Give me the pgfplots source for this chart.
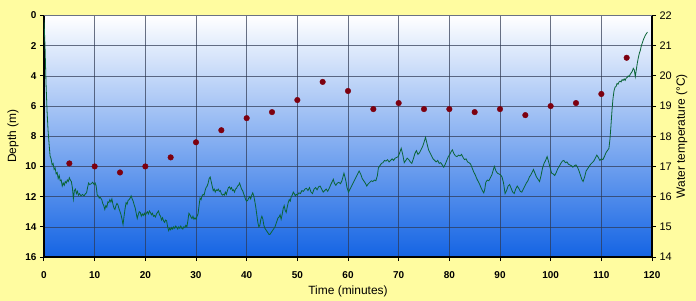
\documentclass[border=0pt]{standalone}
\usepackage{pgfplots}
\pgfplotsset{compat=1.18}
\usepackage{fontspec}
\setmainfont{Liberation Sans}
\definecolor{bgyellow}{RGB}{255,252,160}
\definecolor{deepblue}{RGB}{20,100,228}
\definecolor{midblue}{RGB}{122,174,242}
\definecolor{linegreen}{RGB}{10,100,55}
\definecolor{dotred}{RGB}{125,0,15}
\definecolor{gridc}{RGB}{45,55,80}

\pgfplotstableread{
t d
0 0.3
0.2 2.0
0.4 4.5
0.6 6.3
0.8 7.6
1.0 8.5
1.2 9.3
1.4 9.5
1.6 9.9
1.8 9.8
2.0 10.2
2.2 10.1
2.4 10.5
2.6 10.4
2.8 10.8
3.0 10.6
3.2 10.95
3.4 10.9
3.6 11.3
3.8 11.1
4.0 11.25
4.2 11.0
4.4 11.1
4.6 10.9
4.8 11.0
5.0 10.75
5.2 10.9
5.4 11.0
5.6 11.4
5.8 12.15
6.0 11.6
6.2 11.5
6.4 11.8
6.6 11.65
6.8 11.9
7.0 11.8
7.3 11.95
7.6 11.85
7.9 11.95
8.2 11.8
8.4 11.75
8.6 11.4
8.8 11.1
9.0 11.2
9.3 11.15
9.6 11.05
9.9 11.2
10.1 11.1
10.3 11.3
10.5 11.9
10.7 11.95
10.9 12.1
11.1 12.05
11.4 12.2
11.6 12.45
11.8 12.6
12.0 12.85
12.2 12.6
12.4 12.7
12.6 12.35
12.8 12.4
13.0 12.2
13.2 12.35
13.4 12.15
13.6 12.5
13.8 12.75
14.0 12.85
14.2 12.6
14.4 12.45
14.6 12.55
14.8 12.8
15.0 13.0
15.2 13.2
15.4 13.5
15.6 13.85
15.8 13.3
16.0 12.8
16.2 12.4
16.4 12.5
16.6 12.25
16.8 12.2
17.0 12.1
17.2 11.95
17.4 12.15
17.6 12.3
17.8 12.55
18.0 12.75
18.2 13.1
18.4 13.45
18.6 13.2
18.8 13.0
19.0 13.05
19.2 13.3
19.4 13.15
19.6 13.25
19.8 13.1
20.0 13.25
20.2 13.1
20.4 13.0
20.6 13.15
20.8 12.95
21.0 13.05
21.2 13.2
21.4 13.1
21.6 13.3
21.8 13.25
22.0 13.35
22.2 13.15
22.4 13.05
22.6 12.95
22.8 13.2
23.0 13.3
23.2 13.55
23.4 13.4
23.6 13.6
23.8 13.7
24.0 13.55
24.2 13.6
24.4 14.0
24.6 14.25
24.8 14.1
25.0 14.2
25.2 14.05
25.4 14.15
25.6 14.0
25.8 14.1
26.0 13.95
26.2 14.05
26.4 14.15
26.6 14.0
26.8 14.1
27.0 13.95
27.2 14.1
27.4 14.15
27.6 14.0
27.8 14.05
28.0 13.9
28.2 14.0
28.4 13.6
28.6 13.1
28.8 13.2
29.0 13.35
29.2 13.45
29.4 13.3
29.6 13.5
29.8 13.4
30.0 13.5
30.2 13.3
30.4 13.15
30.6 12.6
30.8 12.1
31.0 12.2
31.2 11.95
31.4 11.85
31.6 11.9
31.8 11.6
32.0 11.4
32.2 11.3
32.4 11.1
32.6 10.8
32.8 10.7
33.0 11.0
33.2 11.3
33.4 11.6
33.6 11.5
33.8 11.7
34.0 11.55
34.2 11.6
34.4 11.5
34.6 11.65
34.8 11.6
35.0 11.8
35.2 11.9
35.4 11.85
35.6 11.9
35.8 11.7
36.0 11.85
36.2 11.6
36.4 11.4
36.6 11.35
36.8 11.5
37.0 11.4
37.2 11.6
37.4 11.55
37.6 11.7
37.8 11.5
38.0 11.45
38.2 11.3
38.4 11.25
38.6 11.1
38.8 11.3
39.0 11.5
39.2 11.6
39.4 11.8
39.6 12.0
39.8 12.2
40.0 12.3
40.2 12.25
40.4 12.1
40.6 12.0
40.8 12.15
41.0 11.9
41.2 11.75
41.4 11.95
41.6 12.3
41.8 12.7
42.0 13.2
42.2 13.7
42.4 14.0
42.6 13.9
42.8 13.5
43.0 13.3
43.2 13.5
43.4 13.9
43.6 14.1
43.8 14.2
44.0 14.3
44.2 14.4
44.4 14.5
44.6 14.5
44.8 14.4
45.0 14.3
45.2 14.2
45.4 14.1
45.6 14.0
45.8 13.8
46.0 13.6
46.2 13.4
46.4 13.35
46.6 13.2
46.8 13.5
47.0 13.2
47.2 12.8
47.4 12.6
47.6 12.9
47.8 13.05
48.0 12.7
48.2 12.4
48.4 12.2
48.6 12.3
48.8 12.0
49.0 11.9
49.2 11.7
49.4 11.8
49.6 11.95
49.8 11.85
50.0 11.9
50.3 11.75
50.6 11.8
50.9 11.6
51.2 11.65
51.5 11.5
51.8 11.45
52.1 11.6
52.4 11.4
52.7 11.7
53.0 11.8
53.3 11.5
53.6 11.4
53.9 11.55
54.2 11.35
54.5 11.3
54.8 11.5
55.1 11.7
55.4 11.6
55.7 11.5
56.0 11.65
56.3 11.45
56.6 11.2
56.9 11.0
57.1 10.85
57.3 11.1
57.6 11.25
57.9 11.1
58.2 11.05
58.5 11.15
58.8 10.95
59.0 10.7
59.2 10.45
59.4 10.7
59.6 11.0
59.8 11.4
60.1 11.7
60.4 11.5
60.7 11.3
61.0 11.1
61.3 10.9
61.6 10.7
61.9 10.5
62.2 10.3
62.5 10.5
62.8 10.8
63.1 10.95
63.4 11.1
63.7 11.3
64.0 11.15
64.3 11.05
64.6 10.95
64.9 11.0
65.2 10.9
65.5 10.95
65.8 10.6
66.0 10.1
66.3 9.95
66.6 9.8
66.9 9.75
67.2 9.6
67.5 9.65
67.8 9.55
68.1 9.7
68.4 9.6
68.7 9.5
69.0 9.6
69.3 9.45
69.6 9.4
69.9 9.35
70.2 9.1
70.5 8.8
70.8 9.2
71.1 9.75
71.4 9.6
71.7 9.45
72.0 9.55
72.3 9.7
72.6 9.8
72.9 9.5
73.2 9.15
73.5 8.95
73.8 9.2
74.1 9.1
74.4 8.9
74.7 8.7
75.0 8.4
75.3 8.07
75.6 8.5
75.9 8.9
76.2 9.1
76.5 9.3
76.8 9.5
77.1 9.6
77.4 9.7
77.7 9.6
78.0 9.8
78.3 9.75
78.6 9.9
78.9 10.05
79.2 9.85
79.5 9.6
79.8 9.35
80.1 9.2
80.4 9.0
80.6 8.9
80.9 9.15
81.2 9.3
81.5 9.35
81.8 9.25
82.1 9.3
82.4 9.2
82.7 9.4
83.0 9.55
83.3 9.5
83.6 9.7
83.9 9.75
84.2 9.85
84.5 10.1
84.8 10.35
85.1 10.55
85.4 10.8
85.7 11.0
86.0 11.2
86.3 11.45
86.6 11.65
86.8 11.75
87.0 11.5
87.2 11.05
87.5 10.9
87.8 10.95
88.1 10.75
88.4 10.55
88.7 10.2
88.9 10.0
89.2 10.3
89.5 10.45
89.8 10.5
90.1 10.55
90.4 10.7
90.7 11.1
91.0 11.8
91.3 11.6
91.6 11.3
91.9 11.2
92.2 11.45
92.5 11.7
92.8 11.8
93.1 11.5
93.4 11.3
93.7 11.45
94.0 11.65
94.3 11.7
94.6 11.5
94.9 11.3
95.2 11.1
95.5 10.95
95.8 10.7
96.1 10.55
96.4 10.35
96.6 10.2
96.9 10.45
97.2 10.7
97.5 10.85
97.8 11.0
98.1 10.6
98.4 10.1
98.7 9.8
99.0 9.6
99.3 9.35
99.6 9.7
99.9 10.1
100.2 10.45
100.5 10.5
100.8 10.6
101.1 10.4
101.4 10.15
101.7 10.0
102.0 9.8
102.3 9.65
102.6 9.6
102.9 9.75
103.2 9.7
103.5 9.85
103.8 9.9
104.1 9.95
104.4 10.05
104.7 9.95
105.0 9.9
105.3 10.05
105.6 10.3
105.9 10.6
106.2 10.9
106.4 11.0
106.7 10.7
107.0 10.3
107.3 10.15
107.6 10.0
107.9 9.85
108.2 9.75
108.5 9.65
108.8 9.45
109.1 9.25
109.4 9.4
109.7 9.6
110.0 9.5
110.3 9.55
110.6 9.35
110.9 9.1
111.2 8.95
111.5 8.8
111.7 8.2
111.9 7.3
112.1 6.3
112.3 5.5
112.5 5.0
112.7 4.75
112.9 4.7
113.1 4.5
113.3 4.55
113.5 4.4
113.7 4.35
113.9 4.4
114.1 4.25
114.3 4.3
114.5 4.2
114.7 4.3
114.9 4.15
115.1 4.1
115.3 4.0
115.5 4.05
115.7 3.9
115.9 3.8
116.1 3.7
116.3 3.5
116.5 3.6
116.7 4.05
116.9 3.6
117.1 3.15
117.3 2.8
117.5 2.5
117.7 2.3
117.9 2.0
118.1 1.8
118.3 1.6
118.5 1.45
118.7 1.3
118.9 1.2
119.1 1.1
}\depthdata

\pgfplotstableread{
t T
5 17.1
10 17.0
15 16.8
20 17.0
25 17.3
30 17.8
35 18.2
40 18.6
45 18.8
50 19.2
55 19.8
60 19.5
65 18.9
70 19.1
75 18.9
80 18.9
85 18.8
90 18.9
95 18.7
100 19.0
105 19.1
110 19.4
115 20.6
}\tempdata

\pgfplotsset{
  common/.style={
    at={(0,0)}, anchor=south west,
    scale only axis, width=608bp, height=241.5bp,
    xmin=0, xmax=120,
    tick align=outside,
    major tick length=4bp,
    tick style={black, line width=1bp},
    /pgf/number format/assume math mode=true,
  }
}

\begin{document}
\begin{tikzpicture}
\fill[bgyellow] (-44bp,-44bp) rectangle (652bp,257bp);
\begin{axis}[
  common,
  ymin=0, ymax=16, y dir=reverse,
  xtick={0,10,...,120}, ytick={0,2,...,16},
  axis y line*=left, axis x line*=bottom,
  axis line style={black, line width=1.4bp},
  axis background/.style={shade, top color=white, middle color=midblue, bottom color=deepblue},
  grid=major,
  major grid style={gridc, line width=0.6bp, opacity=0.7},
  yticklabel style={font=\fontsize{10}{12}\selectfont\bfseries},
  xticklabel style={font=\fontsize{10}{12}\selectfont\bfseries, yshift=-7bp},
  xlabel={Time (minutes)},
  ylabel={Depth (m)},
  every axis x label/.style={at={(axis description cs:0.5,0)}, yshift=-34.7bp, anchor=center, font=\fontsize{12}{14}\selectfont},
  every axis y label/.style={at={(axis description cs:0,0.5)}, xshift=-31bp, rotate=90, anchor=center, font=\fontsize{12}{14}\selectfont},
  clip=true,
]
\addplot[linegreen, line width=0.8bp] table[x=t, y=d] {\depthdata};
\draw[black, line width=1bp] (rel axis cs:0,0) -- (rel axis cs:1,0);
\end{axis}
\begin{axis}[
  common,
  ymin=14, ymax=22, ytick={14,15,...,22},
  axis y line*=right, axis x line=none,
  axis line style={black, line width=1.4bp},
  yticklabel style={font=\fontsize{11}{13}\selectfont},
  ylabel={Water temperature (°C)},
  every axis y label/.style={at={(axis description cs:1,0.5)}, xshift=29.7bp, rotate=90, anchor=center, font=\fontsize{12}{14}\selectfont},
]
\addplot[only marks, mark=*, mark size=2.8bp, mark options={fill=dotred, draw=dotred}] table[x=t, y=T] {\tempdata};
\end{axis}
\end{tikzpicture}
\end{document}
